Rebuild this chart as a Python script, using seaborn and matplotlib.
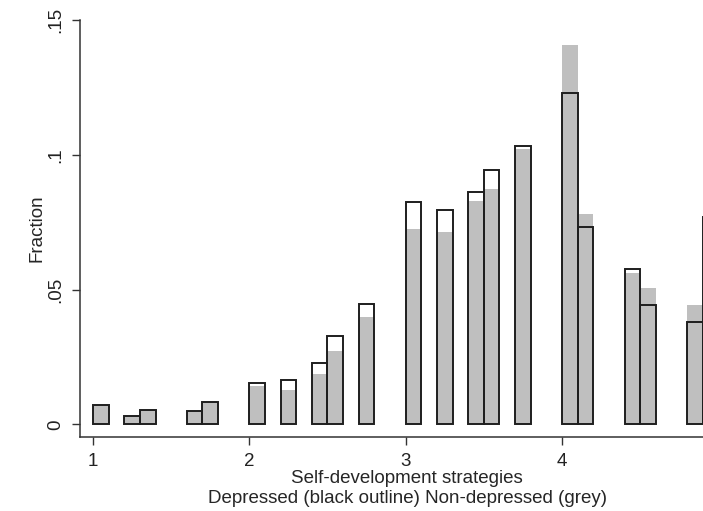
import numpy as np
import pandas as pd
import seaborn as sns
import matplotlib.pyplot as plt

# bin starts (width 0.1) and fraction per group
strategy = [1.0, 1.2, 1.3, 1.6, 1.7, 2.0, 2.2, 2.4, 2.5, 2.7,
            3.0, 3.2, 3.4, 3.5, 3.7, 4.0, 4.1, 4.4, 4.5, 4.8, 4.9]
depressed = [0.0072, 0.0032, 0.0054, 0.0048, 0.0084, 0.0153, 0.0165, 0.0229, 0.0326, 0.0447,
             0.0825, 0.0794, 0.0863, 0.0942, 0.1033, 0.1229, 0.0732, 0.0577, 0.0442, 0.0380, 0.0770]
non_depressed = [0.0072, 0.0032, 0.0054, 0.0048, 0.0084, 0.0141, 0.0126, 0.0188, 0.0271, 0.0397,
                 0.0723, 0.0713, 0.0830, 0.0872, 0.1020, 0.1407, 0.0779, 0.0563, 0.0506, 0.0441, 0.0587]
binw = 0.1
yticks = [0, 0.05, 0.1, 0.15]
ytick_labels = ['0', '.05', '.1', '.15']

df = pd.DataFrame({'mid': np.array(strategy) + binw / 2,
                   'dep': depressed, 'nondep': non_depressed})
edges = [round(1.0 + i * binw, 2) for i in range(41)]

sns.set_style('white')
plt.rcParams['font.family'] = ['Liberation Sans', 'DejaVu Sans']
plt.rcParams['text.color'] = '#222222'

fig = plt.figure(figsize=(7.03, 5.11), dpi=100)
ax = fig.add_axes([80 / 703, 74 / 511, 654 / 703, 417 / 511])

# non-depressed: grey fill, then depressed: black outline on top
sns.histplot(data=df, x='mid', weights='nondep', bins=edges, ax=ax,
             color='#bfbfbf', alpha=1, linewidth=0, fill=True)
sns.histplot(data=df, x='mid', weights='dep', bins=edges, ax=ax,
             color='#1e1e1e', fill=False, linewidth=1.4)

# drop the empty bins (flat lines at zero)
for p in list(ax.patches):
    if p.get_height() == 0:
        p.remove()

ax.set_xlim(0.917, 5.10)
ax.set_ylim(-0.0047, 0.15)
ax.set_xticks([1, 2, 3, 4])
ax.set_xticklabels(['1', '2', '3', '4'], fontsize=13.5, color='#222222')
ax.set_yticks(yticks)
ax.set_yticklabels(ytick_labels, rotation=90, va='center', fontsize=13.5, color='#222222')
ax.tick_params(axis='both', direction='out', length=5.5, width=1, color='#333333',
               left=True, bottom=True)
ax.tick_params(axis='y', pad=6)
ax.tick_params(axis='x', pad=6)

for s in ['top', 'right']:
    ax.spines[s].set_visible(False)
for s in ['left', 'bottom']:
    ax.spines[s].set_color('#333333')
    ax.spines[s].set_linewidth(1.1)

ax.set_ylabel('Fraction', fontsize=13.5, labelpad=1)
ax.set_xlabel('Self-development strategies\nDepressed (black outline) Non-depressed (grey)',
              fontsize=13.5, labelpad=0, linespacing=1.2)

fig.savefig('out.png', dpi=100)
